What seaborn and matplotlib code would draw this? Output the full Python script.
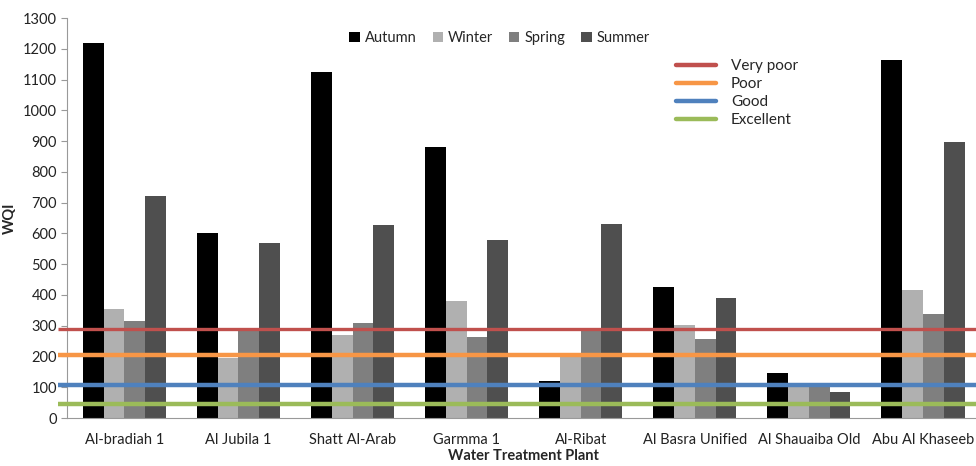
import pandas as pd
import matplotlib.pyplot as plt
import seaborn as sns
from matplotlib.lines import Line2D
from matplotlib.patches import Patch

plants = ['Al-bradiah 1', 'Al Jubila 1', 'Shatt Al-Arab', 'Garmma 1', 'Al-Ribat',
          'Al Basra Unified', 'Al Shauaiba Old', 'Abu Al Khaseeb']
seasons = ['Autumn', 'Winter', 'Spring', 'Summer']
autumn = [1218, 603, 1125, 880, 119, 425, 145, 1165]
winter = [353, 195, 270, 379, 197, 302, 100, 415]
spring = [314, 283, 310, 263, 287, 256, 102, 339]
summer = [722, 570, 628, 578, 632, 389, 83, 898]
season_colors = ['#000000', '#b0b0b0', '#7f7f7f', '#4f4f4f']

classes = ['Very poor', 'Poor', 'Good', 'Excellent']
class_wqi = [290, 205, 108, 47]
class_colors = ['#c0504d', '#f79646', '#4f81bd', '#9bbb59']
class_widths = [2.4, 3.2, 3.2, 3.2]

df = pd.DataFrame({'plant': plants, 'Autumn': autumn, 'Winter': winter,
                   'Spring': spring, 'Summer': summer})
df = df.melt(id_vars='plant', var_name='season', value_name='wqi')

sns.set_style('white')
plt.rcParams['font.family'] = ['Lato', 'DejaVu Sans']

fig = plt.figure(figsize=(9.76, 4.66), dpi=100)
ax = fig.add_axes([0.069, 0.103, 0.935, 0.858])

sns.barplot(data=df, x='plant', y='wqi', hue='season', hue_order=seasons,
            palette=season_colors, width=0.73, gap=0, saturation=1,
            edgecolor='none', linewidth=0, legend=False, ax=ax)

for val, col, lw in zip(class_wqi, class_colors, class_widths):
    ax.hlines(val, -0.58, 7.5, colors=col, linewidth=lw, clip_on=False, zorder=3)

ax.set_xlim(-0.5, 7.5)
ax.set_ylim(0, 1300)
ax.set_yticks(range(0, 1301, 100))
ax.set_xticks([i + 0.5 for i in range(-1, 8)], minor=True)
ax.tick_params(axis='x', which='major', length=0, labelsize=10.5, colors='#222222', pad=11)
ax.tick_params(axis='x', which='minor', length=5, color='#999999', direction='out')
ax.tick_params(axis='y', length=4, color='#999999', labelsize=10.5, left=True)
ax.tick_params(axis='y', labelcolor='#222222')
for s in ['top', 'right']:
    ax.spines[s].set_visible(False)
for s in ['left', 'bottom']:
    ax.spines[s].set_color('#999999')
    ax.spines[s].set_linewidth(0.8)

ax.set_xlabel('Water Treatment Plant', fontsize=10.5, fontweight='bold', labelpad=1)
ax.set_ylabel('WQI', fontsize=10.5, fontweight='bold')
ax.yaxis.set_label_coords(-0.055, 0.5)

season_handles = [Patch(facecolor=c, edgecolor='none') for c in season_colors]
leg1 = fig.legend(season_handles, seasons, loc='center', bbox_to_anchor=(0.512, 0.918),
                  ncol=4, frameon=False, fontsize=10.5, handlelength=0.7, handleheight=0.7,
                  handletextpad=0.35, columnspacing=1.1)
class_handles = [Line2D([], [], color=c, linewidth=3.2) for c in class_colors]
leg2 = fig.legend(class_handles, classes, loc='center', bbox_to_anchor=(0.755, 0.8),
                  frameon=False, fontsize=11, handlelength=2.6, handletextpad=1.0,
                  labelspacing=0.25)

fig.savefig('out.png', dpi=100)
